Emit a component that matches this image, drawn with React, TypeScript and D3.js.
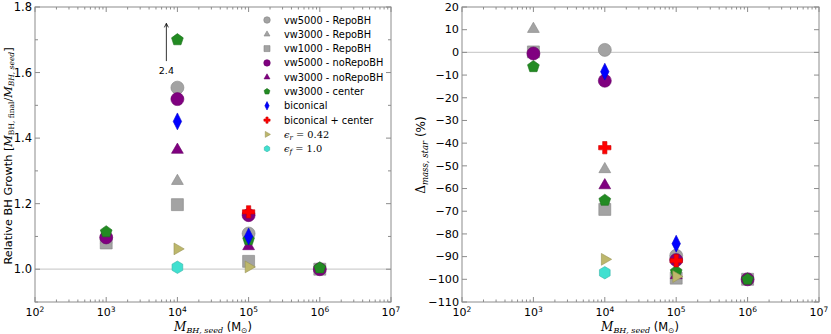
import React from "react";
import * as d3 from "d3";

// ---------- data ----------
const seriesNames = [
  "vw5000 - RepoBH",
  "vw3000 - RepoBH",
  "vw1000 - RepoBH",
  "vw5000 - noRepoBH",
  "vw3000 - noRepoBH",
  "vw3000 - center",
  "biconical",
  "biconical + center",
  "eps_r",
  "eps_f",
];
const seriesShapes = ["circle", "triUp", "square", "circle", "triUp", "pentagon", "diamond", "plus", "triRight", "hexagon"];
const seriesColors = ["#a3a3a3", "#a3a3a3", "#a3a3a3", "#800080", "#800080", "#228b22", "#0000ff", "#ff0000", "#bdb76b", "#40e0d0"];

// [seed mass, relative BH growth]
const growthVw5000Repo = [[1e4, 1.554], [1e5, 1.109]];
const growthVw3000Repo = [[1e3, 1.09], [1e4, 1.269]];
const growthVw1000Repo = [[1e3, 1.08], [1e4, 1.197], [1e5, 1.024], [1e6, 1.0]];
const growthVw5000NoRepo = [[1e3, 1.097], [1e4, 1.519], [1e5, 1.165], [1e6, 1.0]];
const growthVw3000NoRepo = [[1e4, 1.364], [1e5, 1.07]];
const growthCenter = [[1e3, 1.114], [1e4, 1.70], [1e5, 1.09], [1e6, 1.004]];
const growthBiconical = [[1e4, 1.451], [1e5, 1.10]];
const growthBiconicalCenter = [[1e5, 1.175]];
const growthEpsR = [[1e4, 1.062], [1e5, 1.007]];
const growthEpsF = [[1e4, 1.006]];

// [seed mass, delta stellar mass %]
const dmassVw5000Repo = [[1e4, 1.1], [1e5, -89.6]];
const dmassVw3000Repo = [[1e3, 10.3], [1e4, -51.5]];
const dmassVw1000Repo = [[1e3, 0.2], [1e4, -69.2], [1e5, -99.5], [1e6, -100]];
const dmassVw5000NoRepo = [[1e3, -0.5], [1e4, -12.5], [1e5, -91.5], [1e6, -100]];
const dmassVw3000NoRepo = [[1e4, -58.6], [1e5, -98.2]];
const dmassCenter = [[1e3, -6.3], [1e4, -65.2], [1e5, -96.6], [1e6, -100]];
const dmassBiconical = [[1e4, -8.5], [1e5, -84.3]];
const dmassBiconicalCenter = [[1e4, -42], [1e5, -91.8]];
const dmassEpsR = [[1e4, -91.2], [1e5, -98.8]];
const dmassEpsF = [[1e4, -97.1]];

const growthSeries = [growthVw5000Repo, growthVw3000Repo, growthVw1000Repo, growthVw5000NoRepo, growthVw3000NoRepo, growthCenter, growthBiconical, growthBiconicalCenter, growthEpsR, growthEpsF];
const dmassSeries = [dmassVw5000Repo, dmassVw3000Repo, dmassVw1000Repo, dmassVw5000NoRepo, dmassVw3000NoRepo, dmassCenter, dmassBiconical, dmassBiconicalCenter, dmassEpsR, dmassEpsF];

const xDecades = [2, 3, 4, 5, 6, 7];
const growthTicks = [1.0, 1.2, 1.4, 1.6, 1.8];
const growthMinorTicks = [0.9, 1.1, 1.3, 1.5, 1.7];
const dmassTicks = [20, 10, 0, -10, -20, -30, -40, -50, -60, -70, -80, -90, -100, -110];
const arrowLabel = "2.4";

// ---------- marker geometry ----------
function polygon(n: number, r: number, rot: number) {
  const pts: [number, number][] = [];
  for (let i = 0; i < n; i++) {
    const a = rot + (i * 2 * Math.PI) / n;
    pts.push([r * Math.cos(a), r * Math.sin(a)]);
  }
  return "M" + pts.map((p) => p[0].toFixed(2) + "," + p[1].toFixed(2)).join("L") + "Z";
}
function markerPath(shape: string, s: number) {
  const r = s / 2;
  switch (shape) {
    case "triUp":
      return polygon(3, r * 1.05, -Math.PI / 2);
    case "triRight":
      return polygon(3, r * 1.05, 0);
    case "square":
      return `M${-r * 0.92},${-r * 0.92}H${r * 0.92}V${r * 0.92}H${-r * 0.92}Z`;
    case "pentagon":
      return polygon(5, r * 0.95, -Math.PI / 2);
    case "hexagon":
      return polygon(6, r * 0.95, -Math.PI / 2);
    case "diamond":
      return `M0,${-r * 1.3}L${r * 0.65},0L0,${r * 1.3}L${-r * 0.65},0Z`;
    case "plus": {
      const a = r * 0.95, b = r * 0.33;
      return `M${-b},${-a}H${b}V${-b}H${a}V${b}H${b}V${a}H${-b}V${b}H${-a}V${-b}H${-b}Z`;
    }
    default:
      return "";
  }
}
function Marker({ shape, color, x, y, s }: any) {
  const stroke = d3.color(color)!.darker(0.6).formatHex();
  if (shape === "circle")
    return <circle cx={x} cy={y} r={s / 2} fill={color} stroke={stroke} strokeWidth={0.6} />;
  return <path d={markerPath(shape, s)} transform={`translate(${x},${y})`} fill={color} stroke={stroke} strokeWidth={0.6} />;
}

const AXIS = "#8c8c8c";
const FONT = "DejaVu Sans, sans-serif";
const SERIF = "DejaVu Serif, serif";

function XAxis({ x, y0, y1 }: any) {
  const minors: number[] = [];
  for (let d = 2; d < 7; d++) for (let k = 2; k <= 9; k++) minors.push(k * Math.pow(10, d));
  return (
    <g>
      {xDecades.map((d) => {
        const px = x(Math.pow(10, d));
        return (
          <g key={d}>
            <line x1={px} x2={px} y1={y1} y2={y1 - 5} stroke={AXIS} />
            <line x1={px} x2={px} y1={y0} y2={y0 + 5} stroke={AXIS} />
            <text x={px} y={y1 + 14} textAnchor="middle" fontSize={11} fontFamily={FONT}>
              10<tspan dy={-4.5} fontSize={7.5}>{d}</tspan>
            </text>
          </g>
        );
      })}
      {minors.map((v, i) => (
        <g key={i}>
          <line x1={x(v)} x2={x(v)} y1={y1} y2={y1 - 2.5} stroke={AXIS} />
          <line x1={x(v)} x2={x(v)} y1={y0} y2={y0 + 2.5} stroke={AXIS} />
        </g>
      ))}
    </g>
  );
}

function XLabel({ cx, y }: any) {
  return (
    <text x={cx} y={y} textAnchor="middle" fontSize={11.5}>
      <tspan fontFamily={SERIF} fontStyle="italic" fontSize={12}>M</tspan>
      <tspan fontFamily={SERIF} fontStyle="italic" fontSize={8} dy={2}>BH, seed</tspan>
      <tspan fontFamily={FONT} dy={-2}> (M</tspan>
      <tspan fontFamily={FONT} fontSize={7.5} dy={2}>⊙</tspan>
      <tspan fontFamily={FONT} dy={-2}>)</tspan>
    </text>
  );
}

export default function App() {
  const W = 831, H = 334;
  const top = 7, bottom = 302;
  const xL = d3.scaleLog().domain([1e2, 1e7]).range([35, 391]);
  const xR = d3.scaleLog().domain([1e2, 1e7]).range([462, 819]);
  const yL = d3.scaleLinear().domain([0.9, 1.8]).range([bottom, top]);
  const yR = d3.scaleLinear().domain([-110, 20]).range([bottom, top]);

  const legendX = 267, legendTextX = 284, legendY0 = 20, legendDy = 14.3;
  const arrowX = xL(7e3);

  return (
    <svg width={W} height={H} style={{ position: "absolute", left: 0, top: 0, background: "#fff" }}>
      {/* ---------- left panel ---------- */}
      <g>
        <line x1={xL.range()[0]} x2={xL.range()[1]} y1={yL(1)} y2={yL(1)} stroke="#cfcfcf" strokeWidth={1.2} />
        {growthSeries.map((ser, si) =>
          ser.map((d, i) => (
            <Marker key={si + "-" + i} shape={seriesShapes[si]} color={seriesColors[si]} x={xL(d[0])} y={yL(d[1])} s={13} />
          ))
        )}
        {/* arrow annotation */}
        <line x1={arrowX} x2={arrowX} y1={yL(1.635)} y2={yL(1.75)} stroke="#000" strokeWidth={0.8} />
        <path d={`M${arrowX - 2},${yL(1.75) + 4}L${arrowX},${yL(1.75)}L${arrowX + 2},${yL(1.75) + 4}`} fill="none" stroke="#000" strokeWidth={0.8} />
        <text x={arrowX} y={yL(1.6) + 1} textAnchor="middle" fontSize={9.5} fontFamily={FONT}>{arrowLabel}</text>

        {/* legend */}
        {seriesNames.map((n, i) => {
          const y = legendY0 + i * legendDy;
          return (
            <g key={n}>
              <Marker shape={seriesShapes[i]} color={seriesColors[i]} x={legendX} y={y} s={6.5} />
              {i < 8 ? (
                <text x={legendTextX} y={y + 3.5} fontSize={9.8} fontFamily={FONT}>{n}</text>
              ) : (
                <text x={legendTextX} y={y + 3.5} fontSize={9.8} fontFamily={SERIF}>
                  <tspan fontStyle="italic">ϵ</tspan>
                  <tspan fontStyle="italic" fontSize={7} dy={2}>{i === 8 ? "r" : "f"}</tspan>
                  <tspan dy={-2}>{i === 8 ? " = 0.42" : " = 1.0"}</tspan>
                </text>
              )}
            </g>
          );
        })}

        <rect x={35} y={top} width={356} height={bottom - top} fill="none" stroke={AXIS} strokeWidth={1} />
        <XAxis x={xL} y0={top} y1={bottom} />
        {growthTicks.map((t) => (
          <g key={t}>
            <line x1={35} x2={40} y1={yL(t)} y2={yL(t)} stroke={AXIS} />
            <line x1={391} x2={386} y1={yL(t)} y2={yL(t)} stroke={AXIS} />
            <text x={32} y={yL(t) + 4} textAnchor="end" fontSize={11.5} fontFamily={FONT}>{t.toFixed(1)}</text>
          </g>
        ))}
        {growthMinorTicks.map((t) => (
          <g key={t}>
            <line x1={35} x2={38} y1={yL(t)} y2={yL(t)} stroke={AXIS} />
            <line x1={391} x2={388} y1={yL(t)} y2={yL(t)} stroke={AXIS} />
          </g>
        ))}
        <XLabel cx={213} y={331} />
        <text transform={`translate(12,156) rotate(-90)`} textAnchor="middle" fontSize={11.3} fontFamily={FONT}>
          Relative BH Growth [
          <tspan fontFamily={SERIF} fontStyle="italic">M</tspan>
          <tspan fontFamily={SERIF} fontSize={7.5} dy={2}>BH, final</tspan>
          <tspan fontFamily={SERIF} dy={-2}>/</tspan>
          <tspan fontFamily={SERIF} fontStyle="italic">M</tspan>
          <tspan fontFamily={SERIF} fontStyle="italic" fontSize={7.5} dy={2}>BH, seed</tspan>
          <tspan dy={-2}>]</tspan>
        </text>
      </g>

      {/* ---------- right panel ---------- */}
      <g>
        <line x1={xR.range()[0]} x2={xR.range()[1]} y1={yR(0)} y2={yR(0)} stroke="#cfcfcf" strokeWidth={1.2} />
        {dmassSeries.map((ser, si) =>
          ser.map((d, i) => (
            <Marker key={si + "-" + i} shape={seriesShapes[si]} color={seriesColors[si]} x={xR(d[0])} y={yR(d[1])} s={13} />
          ))
        )}
        <rect x={462} y={top} width={357} height={bottom - top} fill="none" stroke={AXIS} strokeWidth={1} />
        <XAxis x={xR} y0={top} y1={bottom} />
        {dmassTicks.map((t) => (
          <g key={t}>
            <line x1={462} x2={467} y1={yR(t)} y2={yR(t)} stroke={AXIS} />
            <line x1={819} x2={814} y1={yR(t)} y2={yR(t)} stroke={AXIS} />
            <text x={459} y={yR(t) + 3.8} textAnchor="end" fontSize={11.2} fontFamily={FONT}>
              {t < 0 ? "\u2212" + Math.abs(t) : String(t)}
            </text>
          </g>
        ))}
        <XLabel cx={640} y={331} />
        <text transform={`translate(425,155) rotate(-90)`} textAnchor="middle" fontSize={12} fontFamily={FONT}>
          <tspan fontFamily={SERIF}>Δ</tspan>
          <tspan fontFamily={SERIF} fontStyle="italic" fontSize={8.5} dy={2.5}>mass, star</tspan>
          <tspan dy={-2.5}> (%)</tspan>
        </text>
      </g>
    </svg>
  );
}
